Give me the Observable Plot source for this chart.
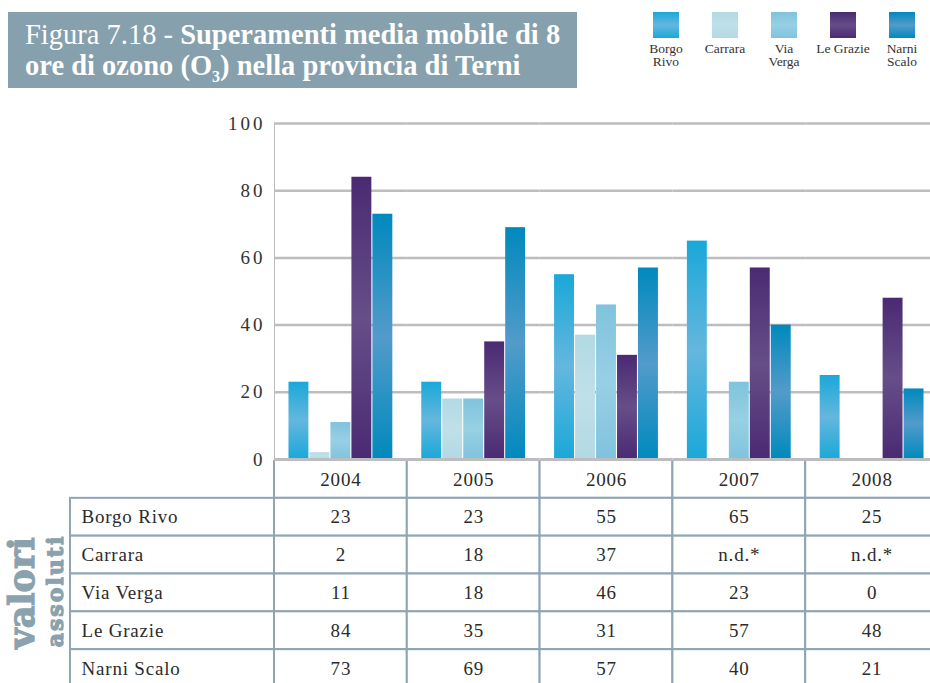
<!DOCTYPE html>
<html><head><meta charset="utf-8">
<script src="https://cdn.jsdelivr.net/npm/d3@7"></script>
<script src="https://cdn.jsdelivr.net/npm/@observablehq/plot@0.6"></script>
<style>
html,body{margin:0;padding:0;background:#fff;overflow:hidden;width:930px;height:683px;}
#wrap{position:relative;width:930px;height:683px;}
#title{position:absolute;left:8px;top:12px;width:569px;height:76px;background:#86a0ad;color:#fff;
 font-family:"Liberation Serif",serif;font-size:28.5px;line-height:31px;box-sizing:border-box;padding:7px 0 0 17px;white-space:nowrap;}
#title b{font-weight:bold;}
#legend .sq{position:absolute;top:12px;width:26px;height:26px;}
#legend .lb{position:absolute;top:42px;width:70px;text-align:center;font-family:"Liberation Serif",serif;font-size:13.5px;line-height:13px;color:#333;white-space:pre-line;}
#chart{position:absolute;left:0;top:100px;}
#table{position:absolute;left:0;top:460px;}
svg{max-width:none !important;background:transparent !important;overflow:hidden;}
#chart text{fill:#333;font-family:"Liberation Serif",serif;font-size:19px;letter-spacing:3px;}
#chart g[aria-label*="y-axis"] path, #chart g[aria-label*="y-axis"] line{stroke-width:2.5px;}
#table text{fill:#2b2b2b;font-family:"Liberation Serif",serif;font-size:19px;letter-spacing:0.8px;}
.rot{position:absolute;transform:translate(-50%,-50%) rotate(-90deg);font-family:"DejaVu Serif",serif;font-weight:bold;color:#8aa2ae;white-space:nowrap;-webkit-text-stroke:1.2px #8aa2ae;}
</style></head>
<body><div id="wrap">
<div id="title">Figura 7.18 - <b>Superamenti media mobile di 8</b><br><b>ore di ozono (O<sub style="font-size:16px;">3</sub>) nella provincia di Terni</b></div>
<div id="legend"></div>
<div id="table"></div>
<div id="chart"></div>
<div class="rot" style="left:21px;top:593px;font-size:35px;">valori</div>
<div class="rot" style="left:55px;top:591px;font-size:22px;letter-spacing:2px;">assoluti</div>
</div>
<script>
const years = ["2004","2005","2006","2007","2008"];
const stations = ["Borgo Rivo","Carrara","Via Verga","Le Grazie","Narni Scalo"];
const legendLabels = ["Borgo\nRivo","Carrara","Via\nVerga","Le Grazie","Narni\nScalo"];
const borgoRivo  = [23,23,55,65,25];
const carrara    = [2,18,37,null,null];
const viaVerga   = [11,18,46,23,0];
const leGrazie   = [84,35,31,57,48];
const narniScalo = [73,69,57,40,21];
const yTicks = [0,20,40,60,80,100];
const missingLabel = "n.d.*";
const colorsDark  = ["#1aa8d8","#b2d9e4","#80c3dd","#4a2a72","#0089bd"];
const colorsLight = ["#64b7de","#bfe0e8","#97d0e4","#664e88","#529bca"];

const series = [borgoRivo, carrara, viaVerga, leGrazie, narniScalo];
const rows = [];
const cells = [];
years.forEach((yr,i)=>{
  cells.push({year:yr,row:"head",label:yr});
  stations.forEach((s,j)=>{
    const v = series[j][i];
    if (v != null) rows.push({year:yr,station:s,value:v});
    cells.push({year:yr,row:s,label: v == null ? missingLabel : String(v)});
  });
});

// legend
const leg = document.getElementById("legend");
stations.forEach((s,j)=>{
  const cx = 666 + j*59;
  const sq = document.createElement("div");
  sq.className="sq"; sq.style.left=(cx-13)+"px";
  sq.style.background=`linear-gradient(to bottom, ${colorsDark[j]}, ${colorsLight[j]} 50%, ${colorsDark[j]})`;
  leg.appendChild(sq);
  const lb = document.createElement("div");
  lb.className="lb"; lb.style.left=(cx-35)+"px"; lb.textContent=legendLabels[j];
  leg.appendChild(lb);
});

// chart
const chart = Plot.plot({
  width: 930, height: 375,
  marginLeft: 274, marginRight: -8, marginTop: 23, marginBottom: 16,
  facet: {data: rows, x: "year"},
  fx: {domain: years, padding: 0, round: false, axis: null},
  x: {domain: stations, paddingInner: 0.05, paddingOuter: 0.69, round: false, axis: null},
  y: {domain: [0,100], ticks: yTicks, tickSize: 0, tickPadding: 9, label: null, line: true},
  marks: [
    Plot.ruleY(yTicks.filter(t=>t>0), {stroke:"#bdbdc0", strokeWidth:2.5}),
    ...stations.map((s,j)=>Plot.barY(rows, {filter: d=>d.station===s, x:"station", y:"value", fill:`url(#grad${j})`})),
    Plot.ruleY([0], {stroke:"#bdbdc0", strokeWidth:3})
  ]
});
chart.style.color = "#bdbdc0";
const defs = d3.select(chart).insert("defs", ":first-child");
stations.forEach((s,j)=>{
  const g = defs.append("linearGradient").attr("id","grad"+j).attr("x1",0).attr("y1",0).attr("x2",0).attr("y2",1);
  g.append("stop").attr("offset","0%").attr("stop-color",colorsDark[j]);
  g.append("stop").attr("offset","50%").attr("stop-color",colorsLight[j]);
  g.append("stop").attr("offset","100%").attr("stop-color",colorsDark[j]);
});
document.getElementById("chart").appendChild(chart);

// table
const gridColor = "#8ea5b2";
const table = Plot.plot({
  width: 930, height: 227,
  marginLeft: 70, marginRight: -8, marginTop: 0, marginBottom: 0,
  x: {type:"band", domain: years, range: [274, 938], padding: 0, round: false, axis: null},
  y: {type:"band", domain: ["head", ...stations], padding: 0, round: false, axis: null},
  marks: [
    Plot.cell(stations, {y: d=>d, fill:"white", stroke: gridColor, strokeWidth: 2}),
    Plot.cell(cells, {x:"year", y:"row", fill:"white", stroke: gridColor, strokeWidth: 2}),
    Plot.text(cells, {x:"year", y:"row", text:"label"}),
    Plot.text(stations, {y: d=>d, text: d=>d, frameAnchor:"left", textAnchor:"start", dx: 11})
  ]
});
document.getElementById("table").appendChild(table);
</script>
</body></html>
